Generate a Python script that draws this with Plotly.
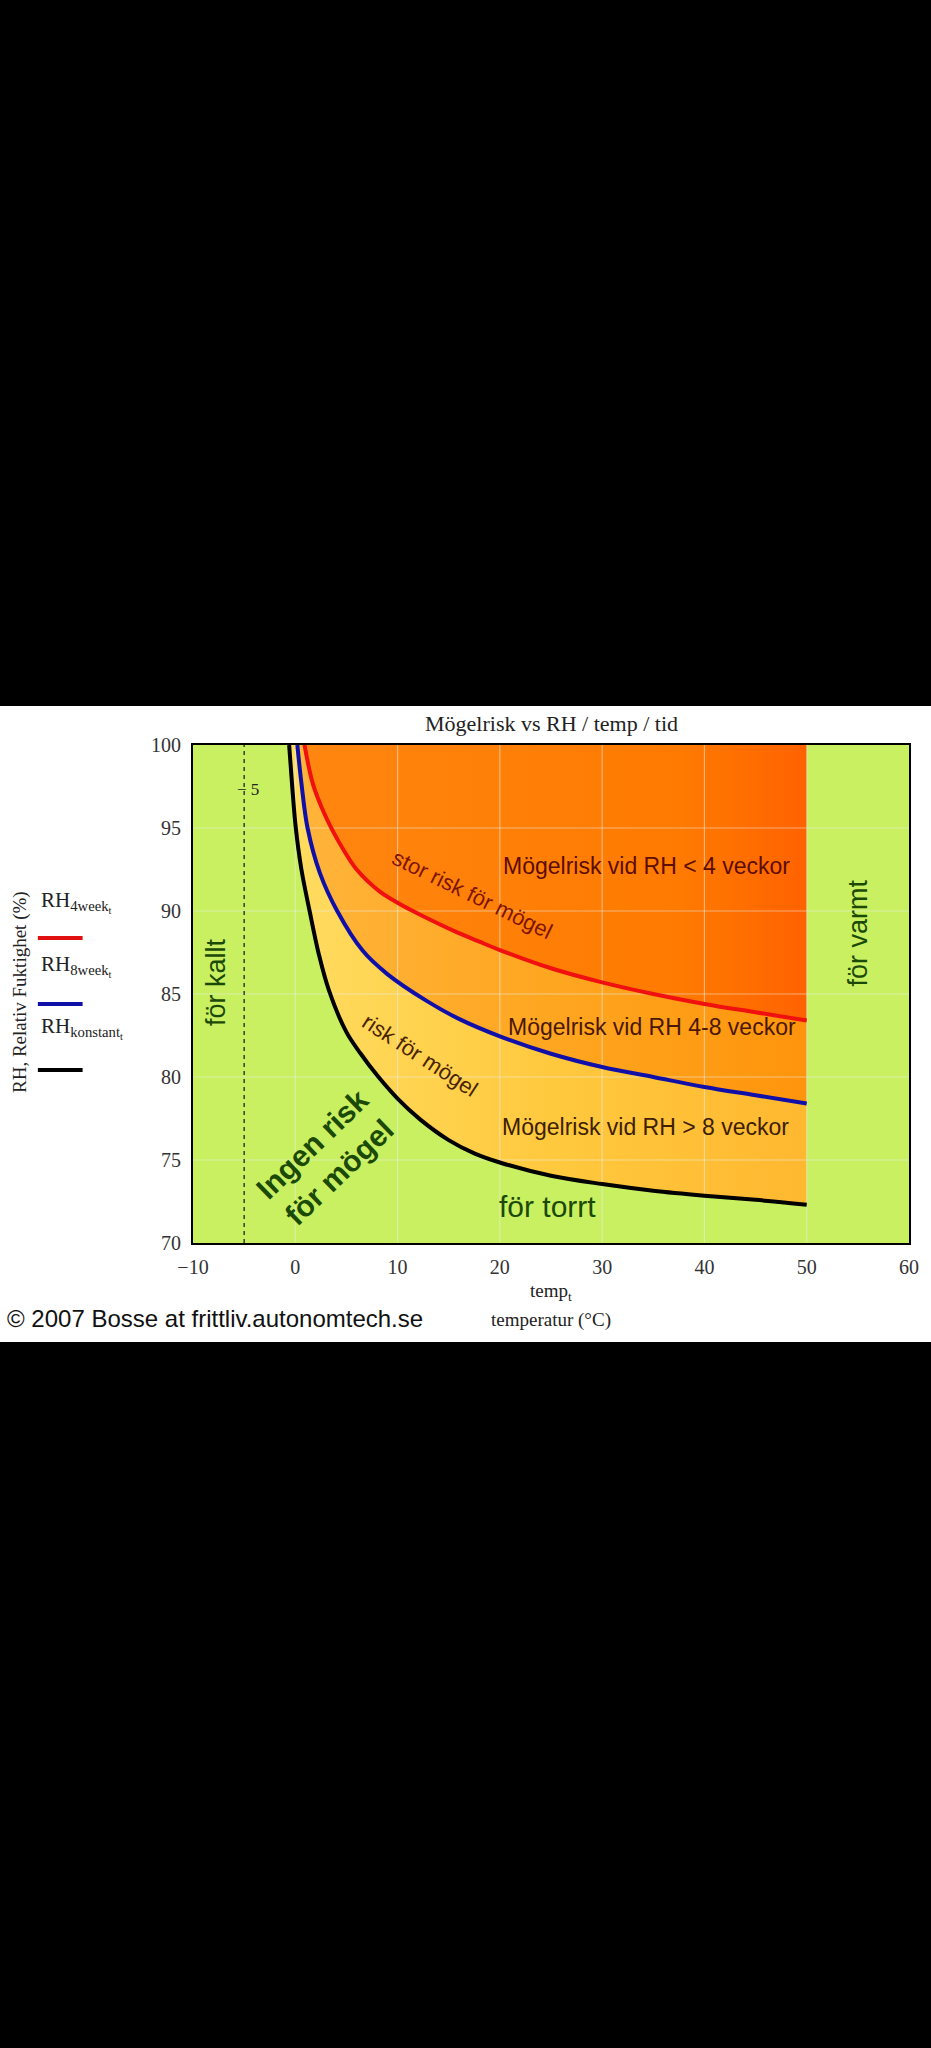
import plotly.graph_objects as go

# ---------------- data ----------------
temp_4week = [0.9, 1.7, 2.6, 3.6, 4.8, 6.0, 8.2, 10.0, 11.5, 13.1, 15.5, 18.0, 20.0, 25.0, 30.0, 35.0, 40.0, 45.0, 50.0]
rh_4week = [100, 97.7, 96.2, 94.9, 93.6, 92.5, 91.2, 90.5, 90.0, 89.5, 88.8, 88.15, 87.65, 86.55, 85.7, 85.0, 84.4, 83.9, 83.4]

temp_8week = [0.2, 0.6, 1.2, 2.4, 4.1, 6.6, 9.0, 12.8, 16.0, 20.0, 25.0, 30.0, 35.0, 40.0, 45.0, 50.0]
rh_8week = [100, 97.7, 95.0, 92.3, 90.0, 87.6, 86.2, 84.6, 83.5, 82.45, 81.4, 80.6, 80.0, 79.4, 78.9, 78.4]

temp_konstant = [-0.6, -0.3, 0.05, 0.6, 1.4, 2.3, 3.3, 5.0, 6.4, 8.0, 10.0, 12.2, 15.0, 17.5, 20.0, 25.0, 30.0, 35.0, 40.0, 45.0, 50.0]
rh_konstant = [100, 97.5, 95.0, 92.5, 90.0, 87.4, 85.2, 82.7, 81.4, 80.1, 78.7, 77.45, 76.2, 75.4, 74.85, 74.05, 73.55, 73.15, 72.85, 72.6, 72.3]

marker_temp = -5          # vertical dashed marker
risk_temp_max = 50        # right edge of the risk zone
x_ticks = [-10, 0, 10, 20, 30, 40, 50, 60]
y_ticks = [70, 75, 80, 85, 90, 95, 100]
x_range = [-10, 60]
y_range = [70, 100]

# ---------------- layout geometry ----------------
W, H = 931, 2048
ML, MR, MT, MB = 193, 18, 745, 805
PW, PH = W - ML - MR, H - MT - MB


def px(xpix):
    return (xpix - ML) / PW


def py(ypix):
    return (H - MB - ypix) / PH


GREEN = "#c9f060"
SANS = "Liberation Sans, Arial, sans-serif"
SERIF = "Liberation Serif, Times New Roman, serif"

fig = go.Figure()


def zone(tx, ry, scale):
    # invisible cap along the top edge, then the curve filled up to it
    cap = go.Scatter(x=[tx[0], risk_temp_max], y=[y_range[1], y_range[1]], mode="lines",
                     line=dict(width=0), hoverinfo="skip", showlegend=False)
    body = go.Scatter(x=tx, y=ry, mode="lines", line=dict(width=0, shape="spline"), fill="tonexty",
                      fillcolor=scale[0][1],
                      fillgradient=dict(type="horizontal", colorscale=scale),
                      hoverinfo="skip", showlegend=False)
    return [cap, body]


for tr in zone(temp_konstant, rh_konstant, [[0, "#ffdc60"], [0.5, "#ffc93e"], [1, "#ffb830"]]):
    fig.add_trace(tr)
for tr in zone(temp_8week, rh_8week, [[0, "#ffb43a"], [0.5, "#ffa620"], [1, "#ff940c"]]):
    fig.add_trace(tr)
for tr in zone(temp_4week, rh_4week, [[0, "#ff8610"], [0.75, "#ff7a00"], [1, "#ff6200"]]):
    fig.add_trace(tr)

# grid lines (above the coloured zones, below the curves)
gx, gy = [], []
for t in x_ticks[1:-1]:
    gx += [t, t, None]
    gy += [y_range[0], y_range[1], None]
for r in y_ticks[1:-1]:
    gx += [x_range[0], x_range[1], None]
    gy += [r, r, None]
fig.add_trace(go.Scatter(x=gx, y=gy, mode="lines", line=dict(color="rgba(235,240,235,0.5)", width=1.2),
                         hoverinfo="skip", showlegend=False))

# dashed marker at -5
fig.add_trace(go.Scatter(x=[marker_temp, marker_temp], y=y_range, mode="lines",
                         line=dict(color="#222", width=1.3, dash="4px,4px"),
                         hoverinfo="skip", showlegend=False))

# curves
fig.add_trace(go.Scatter(x=temp_konstant, y=rh_konstant, mode="lines",
                         line=dict(color="#000000", width=4, shape="spline"), showlegend=False))
fig.add_trace(go.Scatter(x=temp_8week, y=rh_8week, mode="lines",
                         line=dict(color="#1010a8", width=4, shape="spline"), showlegend=False))
fig.add_trace(go.Scatter(x=temp_4week, y=rh_4week, mode="lines",
                         line=dict(color="#f01010", width=4, shape="spline"), showlegend=False))

ann = []


def a(text, x, y, size, color, family=SANS, angle=0, xref="x", yref="y", xanchor="center",
      yanchor="middle", **kw):
    ann.append(dict(text=text, x=x, y=y, xref=xref, yref=yref, showarrow=False, textangle=angle,
                    xanchor=xanchor, yanchor=yanchor,
                    font=dict(size=size, color=color, family=family), **kw))


# in-plot labels
a("för kallt", -7.7, 85.7, 27, "#1b4a06", angle=-90)
a("för varmt", 55.0, 88.7, 27, "#1b4a06", angle=-90)
a("Mögelrisk vid RH &lt; 4 veckor", 34.3, 92.7, 23, "#5c0c00")
a("stor risk för mögel", 17.3, 91.0, 22, "#7e1400", angle=26)
a("Mögelrisk vid RH 4-8 veckor", 34.9, 83.0, 23, "#4a1800")
a("risk för mögel", 12.2, 81.3, 22, "#4a2400", angle=33)
a("Mögelrisk vid RH &gt; 8 veckor", 34.2, 77.0, 23, "#3c2000")
a("<b>Ingen risk<br>för mögel</b>", 3.0, 75.1, 30, "#1b4a06", angle=-44)
a("för torrt", 24.7, 72.2, 30, "#1b4a06")
a("− 5", marker_temp, 97.3, 17, "#222", family=SERIF, xanchor="left", xshift=-9)

# title, axis titles
a("Mögelrisk vs RH / temp / tid", 0.5, py(723), 22, "#222", family=SERIF, xref="paper", yref="paper")
a("temp<sub>t</sub>", 0.5, py(1292), 19, "#222", family=SERIF, xref="paper", yref="paper")
a("temperatur (°C)", 0.5, py(1320), 19, "#222", family=SERIF, xref="paper", yref="paper")
a("RH, Relativ Fuktighet (%)", px(19), py(992), 19, "#222", family=SERIF, angle=-90,
  xref="paper", yref="paper")
a("© 2007 Bosse at frittliv.autonomtech.se", px(4), py(1318), 24, "#111", xref="paper", yref="paper",
  xanchor="left")

# left legend
leg = [("RH<sub>4week<sub>t</sub></sub>", 902, 938, "#e01010"),
       ("RH<sub>8week<sub>t</sub></sub>", 966, 1004, "#1010a8"),
       ("RH<sub>konstant<sub>t</sub></sub>", 1028, 1070, "#000000")]
shapes = []
for txt, ty, ly, col in leg:
    a(txt, px(38), py(ty), 21, "#222", family=SERIF, xref="paper", yref="paper", xanchor="left")
    shapes.append(dict(type="line", xref="paper", yref="paper", x0=px(37), x1=px(82), y0=py(ly), y1=py(ly),
                       line=dict(color=col, width=4)))

# black bands above and below the picture
shapes.append(dict(type="rect", xref="paper", yref="paper", x0=px(-5), x1=px(W + 5), y0=py(706), y1=py(-5),
                   fillcolor="black", line=dict(width=0), layer="above"))
shapes.append(dict(type="rect", xref="paper", yref="paper", x0=px(-5), x1=px(W + 5), y0=py(H + 5), y1=py(1342),
                   fillcolor="black", line=dict(width=0), layer="above"))

fig.update_layout(
    width=W, height=H,
    margin=dict(l=ML, r=MR, t=MT, b=MB),
    paper_bgcolor="white",
    plot_bgcolor=GREEN,
    showlegend=False,
    hovermode=False,
    annotations=ann,
    shapes=shapes,
    xaxis=dict(range=x_range, tickvals=x_ticks, ticktext=["−10"] + [str(v) for v in x_ticks[1:]],
               showgrid=False, zeroline=False, showline=True, mirror=True, linecolor="black", linewidth=2,
               ticks="", tickfont=dict(family=SERIF, size=20, color="#333"), ticklabelstandoff=5),
    yaxis=dict(range=y_range, tickvals=y_ticks, showgrid=False, zeroline=False, showline=True, mirror=True,
               linecolor="black", linewidth=2, ticks="",
               tickfont=dict(family=SERIF, size=20, color="#333"), ticklabelstandoff=6),
)

fig.write_html("out.html",
               config={"displayModeBar": False},
               post_script="document.body.style.margin='0';document.body.style.background='black';"
                           "document.body.style.overflow='hidden';")
